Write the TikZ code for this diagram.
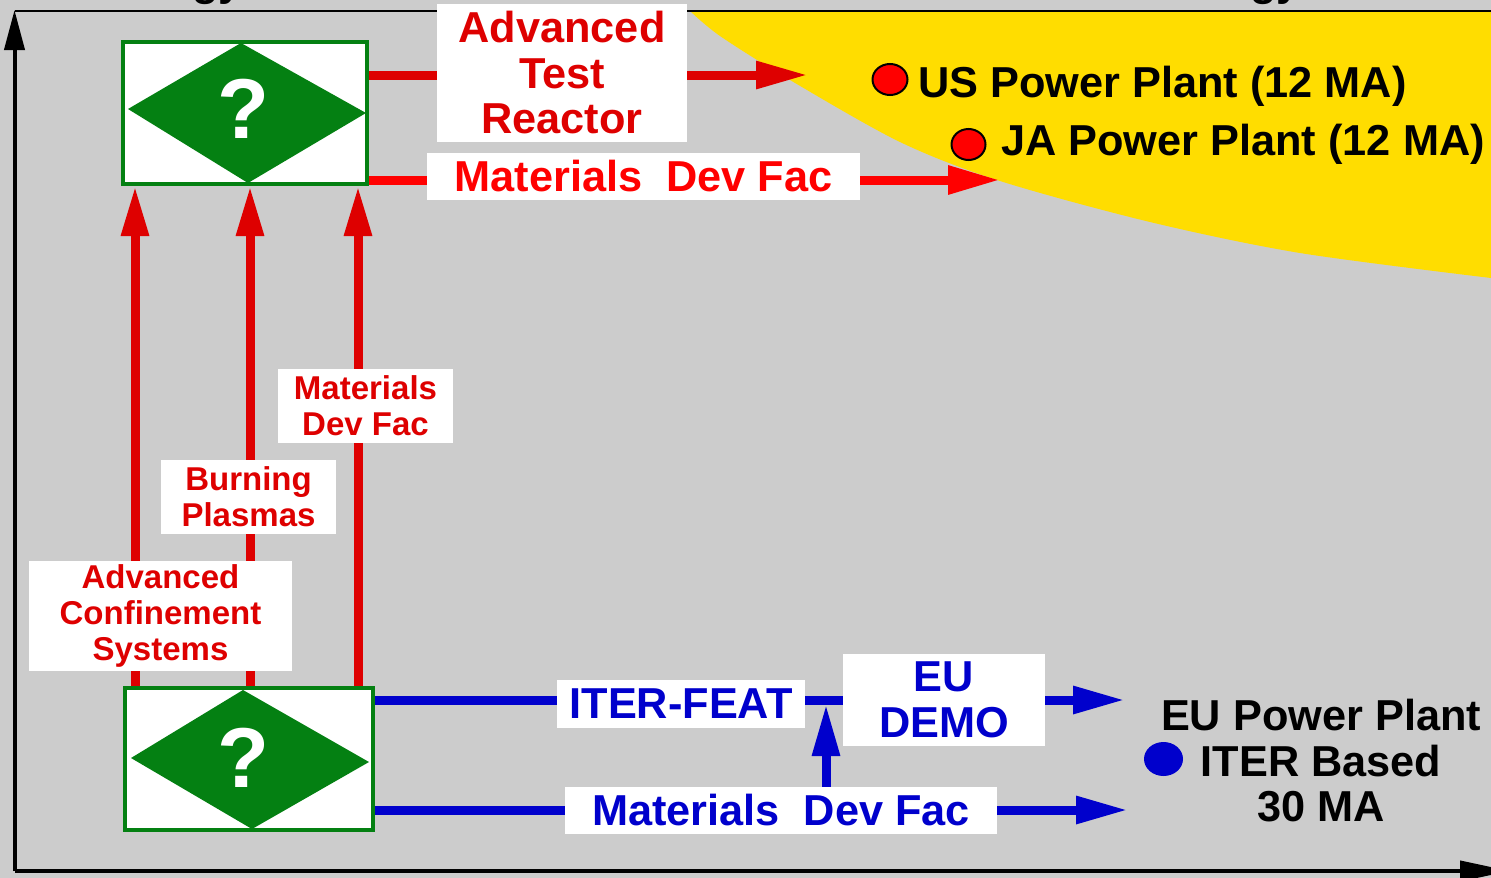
\documentclass[tikz,border=0pt]{standalone}
\usepackage{fontspec}
\setmainfont{Liberation Sans}
\usetikzlibrary{arrows.meta}
\definecolor{bggray}{RGB}{204,204,204}
\definecolor{ylw}{RGB}{255,221,0}
\definecolor{grn}{RGB}{4,128,18}
\definecolor{dred}{RGB}{222,0,0}
\definecolor{bred}{RGB}{255,0,0}
\definecolor{blu}{RGB}{0,0,204}
\pgfdeclarelayer{bg}
\pgfdeclarelayer{conn}
\pgfsetlayers{bg,conn,main}
\begin{document}
\begin{tikzpicture}[x=1pt,y=-1pt,
  bigfont/.style={font=\fontsize{43.3}{45.5}\selectfont\bfseries},
  midfont/.style={font=\fontsize{33}{36}\selectfont\bfseries},
  lbl/.style={fill=white, inner sep=0pt, align=center},
  decbox/.style={draw=grn, line width=4pt, fill=white, inner sep=0pt, minimum height=142pt},
  qmark/.style={text=white, font=\fontsize{85}{85}\selectfont\bfseries, inner sep=0pt},
  redarrow/.style={draw=dred, line width=9pt, -{Triangle[length=52pt,width=26pt]}},
  bredarrow/.style={draw=bred, line width=9pt, -{Triangle[length=52pt,width=27pt]}},
  bluearrow/.style={draw=blu, line width=9pt, -{Triangle[length=52pt,width=26pt]}},
  blueline/.style={draw=blu, line width=9pt},
  axis/.style={draw=black, line width=4pt}
]
\useasboundingbox (0,0) rectangle (1491,878);
\begin{pgfonlayer}{bg}
  \fill[bggray] (0,0) rectangle (1491,878);
  \fill[ylw] plot[smooth] coordinates {(690,11) (720,36) (790,80) (900,142) (1000,181) (1150,222) (1300,253) (1491,278)} -- (1491,11) -- cycle;
\end{pgfonlayer}

% axes
\coordinate (origin) at (14.5,871);
\coordinate (ytip) at (14.5,10);
\coordinate (xtip) at (1510,871);
\coordinate (tl) at (14.5,11);
\coordinate (tr) at (1491,11);
\draw[black, line width=2pt] (tl) -- (tr);
\draw[axis, -{Triangle[length=40pt,width=20pt]}] (origin) -- (ytip);
\draw[axis, -{Triangle[length=50pt,width=20pt]}] (origin) -- (xtip);

% partially visible texts at top
\node[bigfont, anchor=base east, inner sep=0pt] (gy1) at (243,-5) {gy};
\node[bigfont, anchor=base east, inner sep=0pt] (gy2) at (1301,-5) {gy};

% decision boxes
\node[decbox, minimum width=244pt] (top) at (245,113) {};
\fill[grn] (128,109) -- (241,43) -- (366,113) -- (248,183) -- cycle;
\node[qmark] (q1) at (243.5,109) {?};

\node[decbox, minimum width=248pt] (bot) at (249,759) {};
\fill[grn] (131,758) -- (243,690) -- (369,762) -- (252,829) -- cycle;
\node[qmark] (q2) at (243.5,757.5) {?};

% labels
\node[lbl, bigfont, text=dred, minimum width=250pt, minimum height=138pt] (atr) at (562,73) {\raisebox{2pt}{\parbox{250pt}{\centering Advanced\\Test\\Reactor}}};
\node[lbl, bigfont, text=bred, minimum width=433pt, minimum height=47pt] (mdft) at (643.5,176.5) {Materials\ \ Dev Fac};
\node[lbl, midfont, text=dred, minimum width=175pt, minimum height=74pt] (mdfv) at (365.5,406) {Materials\\Dev Fac};
\node[lbl, midfont, text=dred, minimum width=175pt, minimum height=74pt] (bp) at (248.5,497) {Burning\\Plasmas};
\node[lbl, midfont, text=dred, minimum width=263pt, minimum height=110pt] (acs) at (160.5,616) {Advanced\\Confinement\\Systems};
\node[lbl, bigfont, text=blu, minimum width=248pt, minimum height=48pt] (iter) at (681,704) {ITER-FEAT};
\node[lbl, bigfont, text=blu, minimum width=202pt, minimum height=92pt] (eudemo) at (944,700) {EU\\DEMO};
\node[lbl, bigfont, text=blu, minimum width=432pt, minimum height=47pt] (mdfb) at (781,810.5) {\raisebox{1.5pt}{Materials\ \ Dev Fac}};

% plant texts and dots
\node[bigfont, anchor=base west, inner sep=0pt] (us) at (918,97.5) {US Power Plant (12 MA)};
\node[bigfont, anchor=base west, inner sep=0pt] (ja) at (1001,155.5) {JA Power Plant (12 MA)};
\node[bigfont, align=center, anchor=north, inner sep=0pt] (eu) at (1321,699) {EU Power Plant\\ITER Based\\30 MA};
\filldraw[fill=bred, draw=black, line width=2pt] (890,79.5) ellipse [x radius=17.5, y radius=15.5];
\filldraw[fill=bred, draw=black, line width=2pt] (968.5,144.5) ellipse [x radius=17, y radius=15.5];
\fill[blu] (1163.5,759) ellipse [x radius=19.5, y radius=17];

% connectors
\coordinate (atrtip) at (808,75);
\coordinate (mdfttip) at (1000,180);
\coordinate (r1) at (135,0);
\coordinate (r2) at (250,0);
\coordinate (r3) at (358,0);
\coordinate (b1) at (826,0);
\coordinate (itj) at (826,704);
\coordinate (eutip) at (1125,700);
\coordinate (mdfbtip) at (1128,810);
\begin{pgfonlayer}{conn}
  \draw[redarrow] ([yshift=38pt]top.east) -- (atrtip);
  \draw[bredarrow] ([yshift=-67pt]top.east) -- (mdfttip);
  \draw[redarrow, -{Triangle[length=50pt,width=26pt]}] (bot.north -| r1) -- (top.south -| r1);
  \draw[redarrow, -{Triangle[length=50pt,width=26pt]}] (bot.north -| r2) -- (top.south -| r2);
  \draw[redarrow, -{Triangle[length=50pt,width=26pt]}] (bot.north -| r3) -- (top.south -| r3);
  \draw[blueline] ([yshift=59pt]bot.east) -- (eudemo.west);
  \draw[bluearrow] (eudemo.east) -- (eutip);
  \draw[bluearrow] ([yshift=-51pt]bot.east) -- (mdfbtip);
  \draw[bluearrow] (mdfb.north -| b1) -- (itj);
\end{pgfonlayer}
\end{tikzpicture}
\end{document}
